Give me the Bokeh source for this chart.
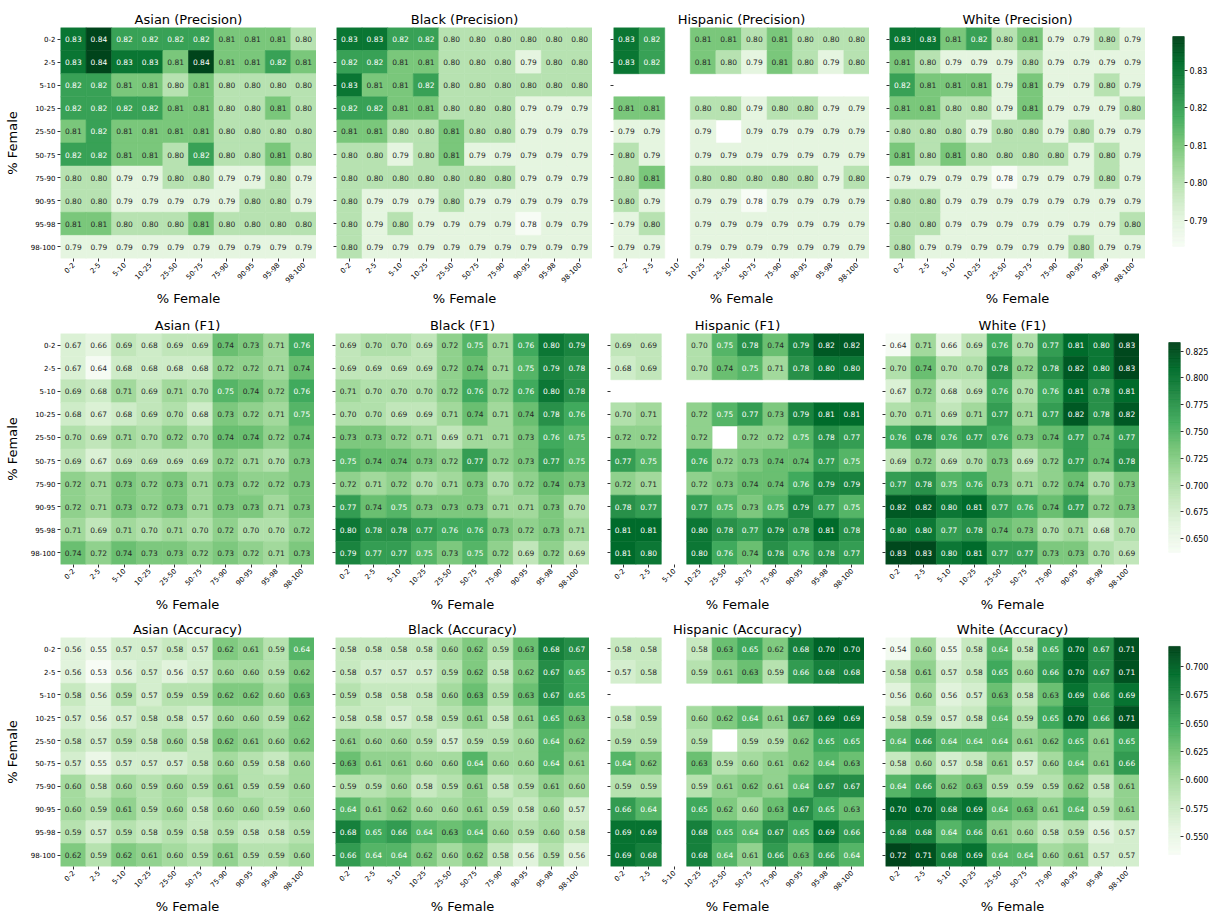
import math
from bokeh.plotting import figure
from bokeh.layouts import row, column
from bokeh.models import ColumnDataSource, FactorRange, Range1d, FixedTicker, PrintfTickFormatter, Spacer
from bokeh.transform import linear_cmap
from bokeh.palettes import Greens256
from bokeh.core.properties import value
from bokeh.embed import file_html
from bokeh.resources import INLINE

bins = ["0-2", "2-5", "5-10", "10-25", "25-50", "50-75", "75-90", "90-95", "95-98", "98-100"]
groups = ["Asian", "Black", "Hispanic", "White"]
metrics = ["Precision", "F1", "Accuracy"]
N = None

asian_precision = [
    [0.83, 0.84, 0.82, 0.82, 0.82, 0.82, 0.81, 0.81, 0.81, 0.80],
    [0.83, 0.84, 0.83, 0.83, 0.81, 0.84, 0.81, 0.81, 0.82, 0.81],
    [0.82, 0.82, 0.81, 0.81, 0.80, 0.81, 0.80, 0.80, 0.80, 0.80],
    [0.82, 0.82, 0.82, 0.82, 0.81, 0.81, 0.80, 0.80, 0.81, 0.80],
    [0.81, 0.82, 0.81, 0.81, 0.81, 0.81, 0.80, 0.80, 0.80, 0.80],
    [0.82, 0.82, 0.81, 0.81, 0.80, 0.82, 0.80, 0.80, 0.81, 0.80],
    [0.80, 0.80, 0.79, 0.79, 0.80, 0.80, 0.79, 0.79, 0.80, 0.79],
    [0.80, 0.80, 0.79, 0.79, 0.79, 0.79, 0.79, 0.80, 0.80, 0.79],
    [0.81, 0.81, 0.80, 0.80, 0.80, 0.81, 0.80, 0.80, 0.80, 0.80],
    [0.79, 0.79, 0.79, 0.79, 0.79, 0.79, 0.79, 0.79, 0.79, 0.79],
]
black_precision = [
    [0.83, 0.83, 0.82, 0.82, 0.80, 0.80, 0.80, 0.80, 0.80, 0.80],
    [0.82, 0.82, 0.81, 0.81, 0.80, 0.80, 0.80, 0.79, 0.80, 0.80],
    [0.83, 0.81, 0.81, 0.82, 0.80, 0.80, 0.80, 0.80, 0.80, 0.80],
    [0.82, 0.82, 0.81, 0.81, 0.80, 0.80, 0.80, 0.79, 0.79, 0.79],
    [0.81, 0.81, 0.80, 0.80, 0.81, 0.80, 0.80, 0.79, 0.79, 0.79],
    [0.80, 0.80, 0.79, 0.80, 0.81, 0.79, 0.79, 0.79, 0.79, 0.79],
    [0.80, 0.80, 0.80, 0.80, 0.80, 0.80, 0.80, 0.79, 0.79, 0.79],
    [0.80, 0.79, 0.79, 0.79, 0.80, 0.79, 0.79, 0.79, 0.79, 0.79],
    [0.80, 0.79, 0.80, 0.79, 0.79, 0.79, 0.79, 0.78, 0.79, 0.79],
    [0.80, 0.79, 0.79, 0.79, 0.79, 0.79, 0.79, 0.79, 0.79, 0.79],
]
hispanic_precision = [
    [0.83, 0.82, N, 0.81, 0.81, 0.80, 0.81, 0.80, 0.80, 0.80],
    [0.83, 0.82, N, 0.81, 0.80, 0.79, 0.81, 0.80, 0.79, 0.80],
    [N, N, N, N, N, N, N, N, N, N],
    [0.81, 0.81, N, 0.80, 0.80, 0.79, 0.80, 0.80, 0.79, 0.79],
    [0.79, 0.79, N, 0.79, N, 0.79, 0.79, 0.79, 0.79, 0.79],
    [0.80, 0.79, N, 0.79, 0.79, 0.79, 0.79, 0.79, 0.79, 0.79],
    [0.80, 0.81, N, 0.80, 0.80, 0.80, 0.80, 0.80, 0.79, 0.80],
    [0.80, 0.79, N, 0.79, 0.79, 0.78, 0.79, 0.79, 0.79, 0.79],
    [0.79, 0.80, N, 0.79, 0.79, 0.79, 0.79, 0.79, 0.79, 0.79],
    [0.79, 0.79, N, 0.79, 0.79, 0.79, 0.79, 0.79, 0.79, 0.79],
]
white_precision = [
    [0.83, 0.83, 0.81, 0.82, 0.80, 0.81, 0.79, 0.79, 0.80, 0.79],
    [0.81, 0.80, 0.79, 0.79, 0.79, 0.80, 0.79, 0.79, 0.79, 0.79],
    [0.82, 0.81, 0.81, 0.81, 0.79, 0.81, 0.79, 0.79, 0.80, 0.79],
    [0.81, 0.81, 0.80, 0.80, 0.79, 0.81, 0.79, 0.79, 0.79, 0.80],
    [0.80, 0.80, 0.80, 0.79, 0.80, 0.80, 0.79, 0.80, 0.79, 0.79],
    [0.81, 0.80, 0.81, 0.80, 0.80, 0.80, 0.80, 0.79, 0.80, 0.79],
    [0.79, 0.79, 0.79, 0.79, 0.78, 0.79, 0.79, 0.79, 0.80, 0.79],
    [0.80, 0.80, 0.79, 0.79, 0.79, 0.79, 0.79, 0.79, 0.79, 0.79],
    [0.80, 0.80, 0.79, 0.79, 0.79, 0.79, 0.79, 0.79, 0.79, 0.80],
    [0.80, 0.79, 0.79, 0.79, 0.79, 0.79, 0.79, 0.80, 0.79, 0.79],
]

asian_f1 = [
    [0.67, 0.66, 0.69, 0.68, 0.69, 0.69, 0.74, 0.73, 0.71, 0.76],
    [0.67, 0.64, 0.68, 0.68, 0.68, 0.68, 0.72, 0.72, 0.71, 0.74],
    [0.69, 0.68, 0.71, 0.69, 0.71, 0.70, 0.75, 0.74, 0.72, 0.76],
    [0.68, 0.67, 0.68, 0.69, 0.70, 0.68, 0.73, 0.72, 0.71, 0.75],
    [0.70, 0.69, 0.71, 0.70, 0.72, 0.70, 0.74, 0.74, 0.72, 0.74],
    [0.69, 0.67, 0.69, 0.69, 0.69, 0.69, 0.72, 0.71, 0.70, 0.73],
    [0.72, 0.71, 0.73, 0.72, 0.73, 0.71, 0.73, 0.72, 0.72, 0.73],
    [0.72, 0.71, 0.73, 0.72, 0.73, 0.71, 0.73, 0.73, 0.71, 0.73],
    [0.71, 0.69, 0.71, 0.70, 0.71, 0.70, 0.72, 0.70, 0.70, 0.72],
    [0.74, 0.72, 0.74, 0.73, 0.73, 0.72, 0.73, 0.72, 0.71, 0.73],
]
black_f1 = [
    [0.69, 0.70, 0.70, 0.69, 0.72, 0.75, 0.71, 0.76, 0.80, 0.79],
    [0.69, 0.69, 0.69, 0.69, 0.72, 0.74, 0.71, 0.75, 0.79, 0.78],
    [0.71, 0.70, 0.70, 0.70, 0.72, 0.76, 0.72, 0.76, 0.80, 0.78],
    [0.70, 0.70, 0.69, 0.69, 0.71, 0.74, 0.71, 0.74, 0.78, 0.76],
    [0.73, 0.73, 0.72, 0.71, 0.69, 0.71, 0.71, 0.73, 0.76, 0.75],
    [0.75, 0.74, 0.74, 0.73, 0.72, 0.77, 0.72, 0.73, 0.77, 0.75],
    [0.72, 0.71, 0.72, 0.70, 0.71, 0.73, 0.70, 0.72, 0.74, 0.73],
    [0.77, 0.74, 0.75, 0.73, 0.73, 0.73, 0.71, 0.71, 0.73, 0.70],
    [0.80, 0.78, 0.78, 0.77, 0.76, 0.76, 0.73, 0.72, 0.73, 0.71],
    [0.79, 0.77, 0.77, 0.75, 0.73, 0.75, 0.72, 0.69, 0.72, 0.69],
]
hispanic_f1 = [
    [0.69, 0.69, N, 0.70, 0.75, 0.78, 0.74, 0.79, 0.82, 0.82],
    [0.68, 0.69, N, 0.70, 0.74, 0.75, 0.71, 0.78, 0.80, 0.80],
    [N, N, N, N, N, N, N, N, N, N],
    [0.70, 0.71, N, 0.72, 0.75, 0.77, 0.73, 0.79, 0.81, 0.81],
    [0.72, 0.72, N, 0.72, N, 0.72, 0.72, 0.75, 0.78, 0.77],
    [0.77, 0.75, N, 0.76, 0.72, 0.73, 0.74, 0.74, 0.77, 0.75],
    [0.72, 0.71, N, 0.72, 0.73, 0.74, 0.74, 0.76, 0.79, 0.79],
    [0.78, 0.77, N, 0.77, 0.75, 0.73, 0.75, 0.79, 0.77, 0.75],
    [0.81, 0.81, N, 0.80, 0.78, 0.77, 0.79, 0.78, 0.81, 0.78],
    [0.81, 0.80, N, 0.80, 0.76, 0.74, 0.78, 0.76, 0.78, 0.77],
]
white_f1 = [
    [0.64, 0.71, 0.66, 0.69, 0.76, 0.70, 0.77, 0.81, 0.80, 0.83],
    [0.70, 0.74, 0.70, 0.70, 0.78, 0.72, 0.78, 0.82, 0.80, 0.83],
    [0.67, 0.72, 0.68, 0.69, 0.76, 0.70, 0.76, 0.81, 0.78, 0.81],
    [0.70, 0.71, 0.69, 0.71, 0.77, 0.71, 0.77, 0.82, 0.78, 0.82],
    [0.76, 0.78, 0.76, 0.77, 0.76, 0.73, 0.74, 0.77, 0.74, 0.77],
    [0.69, 0.72, 0.69, 0.70, 0.73, 0.69, 0.72, 0.77, 0.74, 0.78],
    [0.77, 0.78, 0.75, 0.76, 0.73, 0.71, 0.72, 0.74, 0.70, 0.73],
    [0.82, 0.82, 0.80, 0.81, 0.77, 0.76, 0.74, 0.77, 0.72, 0.73],
    [0.80, 0.80, 0.77, 0.78, 0.74, 0.73, 0.70, 0.71, 0.68, 0.70],
    [0.83, 0.83, 0.80, 0.81, 0.77, 0.77, 0.73, 0.73, 0.70, 0.69],
]

asian_accuracy = [
    [0.56, 0.55, 0.57, 0.57, 0.58, 0.57, 0.62, 0.61, 0.59, 0.64],
    [0.56, 0.53, 0.56, 0.57, 0.56, 0.57, 0.60, 0.60, 0.59, 0.62],
    [0.58, 0.56, 0.59, 0.57, 0.59, 0.59, 0.62, 0.62, 0.60, 0.63],
    [0.57, 0.56, 0.57, 0.58, 0.58, 0.57, 0.60, 0.60, 0.59, 0.62],
    [0.58, 0.57, 0.59, 0.58, 0.60, 0.58, 0.62, 0.61, 0.60, 0.62],
    [0.57, 0.55, 0.57, 0.57, 0.57, 0.58, 0.60, 0.59, 0.58, 0.60],
    [0.60, 0.58, 0.60, 0.59, 0.60, 0.59, 0.61, 0.59, 0.59, 0.60],
    [0.60, 0.59, 0.61, 0.59, 0.60, 0.58, 0.60, 0.60, 0.59, 0.60],
    [0.59, 0.57, 0.59, 0.58, 0.59, 0.58, 0.59, 0.58, 0.58, 0.59],
    [0.62, 0.59, 0.62, 0.61, 0.60, 0.59, 0.61, 0.59, 0.59, 0.60],
]
black_accuracy = [
    [0.58, 0.58, 0.58, 0.58, 0.60, 0.62, 0.59, 0.63, 0.68, 0.67],
    [0.58, 0.57, 0.57, 0.57, 0.59, 0.62, 0.58, 0.62, 0.67, 0.65],
    [0.59, 0.58, 0.58, 0.58, 0.60, 0.63, 0.59, 0.63, 0.67, 0.65],
    [0.58, 0.58, 0.57, 0.58, 0.59, 0.61, 0.58, 0.61, 0.65, 0.63],
    [0.61, 0.60, 0.60, 0.59, 0.57, 0.59, 0.59, 0.60, 0.64, 0.62],
    [0.63, 0.61, 0.61, 0.60, 0.60, 0.64, 0.60, 0.60, 0.64, 0.61],
    [0.59, 0.59, 0.60, 0.58, 0.59, 0.61, 0.58, 0.59, 0.61, 0.60],
    [0.64, 0.61, 0.62, 0.60, 0.60, 0.61, 0.59, 0.58, 0.60, 0.57],
    [0.68, 0.65, 0.66, 0.64, 0.63, 0.64, 0.60, 0.59, 0.60, 0.58],
    [0.66, 0.64, 0.64, 0.62, 0.60, 0.62, 0.58, 0.56, 0.59, 0.56],
]
hispanic_accuracy = [
    [0.58, 0.58, N, 0.58, 0.63, 0.65, 0.62, 0.68, 0.70, 0.70],
    [0.57, 0.58, N, 0.59, 0.61, 0.63, 0.59, 0.66, 0.68, 0.68],
    [N, N, N, N, N, N, N, N, N, N],
    [0.58, 0.59, N, 0.60, 0.62, 0.64, 0.61, 0.67, 0.69, 0.69],
    [0.59, 0.59, N, 0.59, N, 0.59, 0.59, 0.62, 0.65, 0.65],
    [0.64, 0.62, N, 0.63, 0.59, 0.60, 0.61, 0.62, 0.64, 0.63],
    [0.59, 0.59, N, 0.59, 0.61, 0.62, 0.61, 0.64, 0.67, 0.67],
    [0.66, 0.64, N, 0.65, 0.62, 0.60, 0.63, 0.67, 0.65, 0.63],
    [0.69, 0.69, N, 0.68, 0.65, 0.64, 0.67, 0.65, 0.69, 0.66],
    [0.69, 0.68, N, 0.68, 0.64, 0.61, 0.66, 0.63, 0.66, 0.64],
]
white_accuracy = [
    [0.54, 0.60, 0.55, 0.58, 0.64, 0.58, 0.65, 0.70, 0.67, 0.71],
    [0.58, 0.61, 0.57, 0.58, 0.65, 0.60, 0.66, 0.70, 0.67, 0.71],
    [0.56, 0.60, 0.56, 0.57, 0.63, 0.58, 0.63, 0.69, 0.66, 0.69],
    [0.58, 0.59, 0.57, 0.58, 0.64, 0.59, 0.65, 0.70, 0.66, 0.71],
    [0.64, 0.66, 0.64, 0.64, 0.64, 0.61, 0.62, 0.65, 0.61, 0.65],
    [0.58, 0.60, 0.57, 0.58, 0.61, 0.57, 0.60, 0.64, 0.61, 0.66],
    [0.64, 0.66, 0.62, 0.63, 0.59, 0.59, 0.59, 0.62, 0.58, 0.61],
    [0.70, 0.70, 0.68, 0.69, 0.64, 0.63, 0.61, 0.64, 0.59, 0.61],
    [0.68, 0.68, 0.64, 0.66, 0.61, 0.60, 0.58, 0.59, 0.56, 0.57],
    [0.72, 0.71, 0.68, 0.69, 0.64, 0.64, 0.60, 0.61, 0.57, 0.57],
]

data = {
    "Precision": [asian_precision, black_precision, hispanic_precision, white_precision],
    "F1": [asian_f1, black_f1, hispanic_f1, white_f1],
    "Accuracy": [asian_accuracy, black_accuracy, hispanic_accuracy, white_accuracy],
}
color_limits = {"Precision": (0.783, 0.839), "F1": (0.637, 0.833), "Accuracy": (0.534, 0.7175)}
cbar_ticks = {
    "Precision": [0.79, 0.80, 0.81, 0.82, 0.83],
    "F1": [0.650, 0.675, 0.700, 0.725, 0.750, 0.775, 0.800, 0.825],
    "Accuracy": [0.550, 0.575, 0.600, 0.625, 0.650, 0.675, 0.700],
}
cbar_format = {"Precision": "%.2f", "F1": "%.3f", "Accuracy": "%.3f"}

FONT = "DejaVu Sans"
TEXT = "#000000"


def hex_rgb(h):
    h = h.lstrip("#")
    return tuple(int(h[i:i + 2], 16) / 255.0 for i in (0, 2, 4))


def rel_lum(h):
    out = []
    for c in hex_rgb(h):
        out.append(c / 12.92 if c <= 0.03928 else ((c + 0.055) / 1.055) ** 2.4)
    return 0.2126 * out[0] + 0.7152 * out[1] + 0.0722 * out[2]


pal = list(Greens256)
if sum(hex_rgb(pal[0])) < sum(hex_rgb(pal[-1])):
    pal = pal[::-1]


def pal_color(v, lo, hi):
    n = len(pal)
    k = int(math.floor((v - lo) * n / (hi - lo)))
    k = max(0, min(n - 1, k))
    return pal[k]


TOP_GAP = 7
T = 20
FH = 231
BOTTOMS = [55, 53, 49]
CB_H = 210
CB_PAD_TOP = 9
ROW_GEOM = [
    dict(lefts=[60, 20, 21, 20], fw=256, cb_left=27, cb_w=65),
    dict(lefts=[60, 21, 21, 21], fw=254, cb_left=29, cb_w=72),
    dict(lefts=[60, 21, 21, 21], fw=254, cb_left=29, cb_w=72),
]


def style_axis(ax):
    ax.axis_line_color = None
    ax.major_tick_out = 3
    ax.major_tick_in = 0
    ax.major_tick_line_color = "#333333"
    ax.minor_tick_line_color = None
    ax.minor_tick_out = 0
    ax.minor_tick_in = 0
    ax.major_label_text_font = FONT
    ax.major_label_text_font_size = "7px"
    ax.major_label_text_color = TEXT
    ax.major_label_standoff = 2
    ax.axis_label_text_font = FONT
    ax.axis_label_text_font_size = "13px"
    ax.axis_label_text_font_style = "normal"
    ax.axis_label_text_color = TEXT
    ax.axis_label_standoff = 3


def heatmap(group, metric, grid, left, fw, H, bottom, first):
    lo, hi = color_limits[metric]
    xs, ys, vs, labels, tcs = [], [], [], [], []
    for i, rlab in enumerate(bins):
        for j, clab in enumerate(bins):
            v = grid[i][j]
            if v is None:
                continue
            xs.append(clab)
            ys.append(rlab)
            vs.append(v)
            labels.append(f"{v:.2f}")
            tcs.append("#262626" if rel_lum(pal_color(v, lo, hi)) > 0.408 else "#ffffff")
    src = ColumnDataSource(dict(x=xs, y=ys, v=vs, label=labels, tc=tcs))
    p = figure(width=left + fw, height=H,
               x_range=FactorRange(factors=bins), y_range=FactorRange(factors=bins[::-1]),
               toolbar_location=None, tools="", output_backend="svg",
               min_border_left=left, min_border_right=0, min_border_top=T,
               min_border_bottom=bottom, title=f"{group} ({metric})")
    cmap = linear_cmap("v", pal, lo, hi)
    p.rect(x="x", y="y", width=1, height=1, source=src, fill_color=cmap,
           line_color=cmap, line_width=0.6)
    p.text(x="x", y="y", text="label", source=src, text_align="center",
           text_baseline="middle", text_font_size=value("7.5px"),
           text_color="tc", text_font=value(FONT))
    p.outline_line_color = None
    p.grid.visible = False
    p.background_fill_color = "white"
    p.border_fill_color = "white"
    p.title.text_font = FONT
    p.title.text_font_size = "13px"
    p.title.text_font_style = "normal"
    p.title.text_color = TEXT
    p.title.align = "center"
    p.title.standoff = 2
    style_axis(p.xaxis[0])
    style_axis(p.yaxis[0])
    p.xaxis.major_label_orientation = math.pi / 4
    p.xaxis.axis_label = "% Female"
    if first:
        p.yaxis.axis_label = "% Female"
        p.yaxis.axis_label_standoff = 8
    else:
        p.yaxis.major_label_text_font_size = "0px"
        p.yaxis.major_label_text_color = None
        p.yaxis.major_label_standoff = 0
    return p


def colorbar_fig(metric, left, w, H, bottom):
    lo, hi = color_limits[metric]
    n = len(pal)
    edges = [lo + (hi - lo) * k / n for k in range(n + 1)]
    mids = [(edges[k] + edges[k + 1]) / 2 for k in range(n)]
    src = ColumnDataSource(dict(b=edges[:-1], t=edges[1:], m=mids))
    per_px = (hi - lo) / CB_H
    y0 = lo - (FH - CB_H - CB_PAD_TOP) * per_px
    y1 = hi + CB_PAD_TOP * per_px
    p = figure(width=w, height=H, x_range=Range1d(0, 1), y_range=Range1d(y0, y1),
               toolbar_location=None, tools="", output_backend="svg",
               y_axis_location="right",
               min_border_left=left, min_border_right=w - left - 15,
               min_border_top=T, min_border_bottom=bottom)
    cmap = linear_cmap("m", pal, lo, hi)
    p.quad(left=0, right=1, bottom="b", top="t", source=src, fill_color=cmap,
           line_color=cmap, line_width=0.6)
    p.xaxis.visible = False
    p.grid.visible = False
    p.outline_line_color = None
    p.background_fill_color = "white"
    p.border_fill_color = "white"
    ax = p.yaxis[0]
    ax.ticker = FixedTicker(ticks=cbar_ticks[metric])
    ax.formatter = PrintfTickFormatter(format=cbar_format[metric])
    ax.axis_line_color = None
    ax.major_tick_out = 3
    ax.major_tick_in = 0
    ax.major_tick_line_color = "#333333"
    ax.minor_tick_line_color = None
    ax.major_label_text_font = FONT
    ax.major_label_text_font_size = "8px"
    ax.major_label_text_color = TEXT
    ax.major_label_standoff = 2
    return p


rows = [Spacer(width=10, height=TOP_GAP)]
for r, metric in enumerate(metrics):
    g = ROW_GEOM[r]
    H = T + FH + BOTTOMS[r]
    figs = []
    for c, group in enumerate(groups):
        figs.append(heatmap(group, metric, data[metric][c], g["lefts"][c], g["fw"], H,
                            BOTTOMS[r], c == 0))
    figs.append(colorbar_fig(metric, g["cb_left"], g["cb_w"], H, BOTTOMS[r]))
    rows.append(row(*figs, spacing=0))

layout = column(*rows, spacing=0)
open("out.html", "w").write(file_html(layout, INLINE, title="Heatmaps by % Female"))
